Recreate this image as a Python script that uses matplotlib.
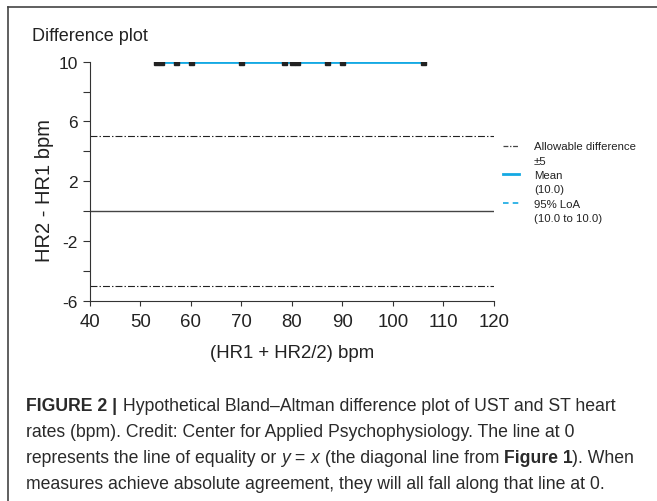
import matplotlib
matplotlib.use('Agg')
import matplotlib.pyplot as plt
from matplotlib.lines import Line2D

plt.rcParams['font.family'] = ['Liberation Sans', 'DejaVu Sans']
plt.rcParams['lines.scale_dashes'] = False
plt.rcParams['axes.unicode_minus'] = False

# data: mean of the two readings vs. their difference
mean_hr = [53, 54, 57, 60, 70, 78.5, 80, 81, 87, 90, 106]
diff_hr = [10, 10, 10, 10, 10, 10, 10, 10, 10, 10, 10]
bias = 10.0
loa_low, loa_high = 10.0, 10.0
allowable = 5

x_ticks = [40, 50, 60, 70, 80, 90, 100, 110, 120]
y_major = [-6, -2, 2, 6, 10]
y_minor = [-4, 0, 4, 8]

legend_labels = ['Allowable difference', '\u00b15', 'Mean', '(10.0)',
                 '95% LoA', '(10.0 to 10.0)']

caption_lines = [
    [('FIGURE 2 |', 'bold', 'normal'),
     (' Hypothetical Bland\u2013Altman difference plot of UST and ST heart', 'normal', 'normal')],
    [('rates (bpm). Credit: Center for Applied Psychophysiology. The line at 0', 'normal', 'normal')],
    [('represents the line of equality or ', 'normal', 'normal'), ('y', 'normal', 'italic'),
     (' = ', 'normal', 'normal'), ('x', 'normal', 'italic'),
     (' (the diagonal line from ', 'normal', 'normal'), ('Figure 1', 'bold', 'normal'),
     ('). When', 'normal', 'normal')],
    [('measures achieve absolute agreement, they will all fall along that line at 0.', 'normal', 'normal')],
]

W, H = 657, 502
fig = plt.figure(figsize=(W / 100, H / 100), dpi=100)
ax = fig.add_axes([90 / W, 1 - 301.7 / H, 403.7 / W, 239 / H])

blue = '#14a9e3'
dark = '#333333'
dashdot = (0, (5, 1.5, 1, 1.5))

ax.axhline(0, color='#444444', lw=1.0, zorder=1)
ax.axhline(allowable, color='#222222', lw=0.8, ls=dashdot, zorder=1)
ax.axhline(-allowable, color='#222222', lw=0.8, ls=dashdot, zorder=1)
ax.hlines([loa_low, loa_high], min(mean_hr), max(mean_hr), color=blue, lw=1.2,
          ls=(0, (4, 3)), zorder=2)
ax.hlines(bias, min(mean_hr), max(mean_hr), color=blue, lw=2.0, zorder=3)
ax.plot(mean_hr, diff_hr, ls='none', marker='s', ms=3.6, color='#222222', zorder=4)

ax.set_xlim(40, 120)
ax.set_ylim(-6, 10)
ax.set_xticks(x_ticks)
ax.set_yticks(y_major)
ax.set_yticks(y_minor, minor=True)
ax.tick_params(axis='x', length=3.6, width=0.8, color=dark, labelsize=13.4, pad=5.5,
               labelcolor='#222222')
ax.tick_params(axis='y', which='both', length=4.8, width=0.8, color=dark, labelsize=12.5,
               pad=4, labelcolor='#222222')
for side in ['top', 'right']:
    ax.spines[side].set_visible(False)
for side in ['left', 'bottom']:
    ax.spines[side].set_color(dark)
    ax.spines[side].set_linewidth(0.8)

ax.set_xlabel('(HR1 + HR2/2) bpm', fontsize=13.4, color='#222222', labelpad=10)
ax.set_ylabel('HR2 - HR1 bpm', fontsize=14.5, color='#222222')
ax.yaxis.set_label_coords(-0.09, 0.467)

handles = [
    Line2D([], [], color='#444444', lw=0.9, ls=(0, (3.5, 1.2, 1, 1.2))),
    Line2D([], [], color='none'),
    Line2D([], [], color=blue, lw=2.0),
    Line2D([], [], color='none'),
    Line2D([], [], color=blue, lw=1.2, ls=(0, (4, 3))),
    Line2D([], [], color='none'),
]
leg = fig.legend(handles, legend_labels, loc='upper left',
                 bbox_to_anchor=(503 / W, 1 - 142.5 / H), frameon=False,
                 fontsize=8.2, handlelength=1.4, handletextpad=1.32,
                 labelspacing=0.38, borderpad=0, borderaxespad=0)
for t in leg.get_texts():
    t.set_color('#222222')

fig.text(32 / W, 1 - 41 / H, 'Difference plot', fontsize=13, color='#222222', va='baseline')

# frame around the figure panel (right and bottom cut off in the page)
fig.add_artist(Line2D([7.5 / W, 7.5 / W], [0, 1 - 8.3 / H], color='#444444', lw=1.2,
                      transform=fig.transFigure))
fig.add_artist(Line2D([7.5 / W, 1], [1 - 8.3 / H, 1 - 8.3 / H], color='#444444', lw=1.2,
                      transform=fig.transFigure))

# caption, drawn piece by piece so bold/italic runs line up
renderer = fig.canvas.get_renderer()
cap_size = 12.7
baselines = [410.7, 436.9, 463.1, 489.3]
for segs, base in zip(caption_lines, baselines):
    x = 26.5
    for txt, weight, style in segs:
        t = fig.text(x / W, 1 - base / H, txt, fontsize=cap_size, fontweight=weight,
                     fontstyle=style, color='#2a2a2a', va='baseline')
        x += t.get_window_extent(renderer).width

fig.savefig('out.png', dpi=100)
